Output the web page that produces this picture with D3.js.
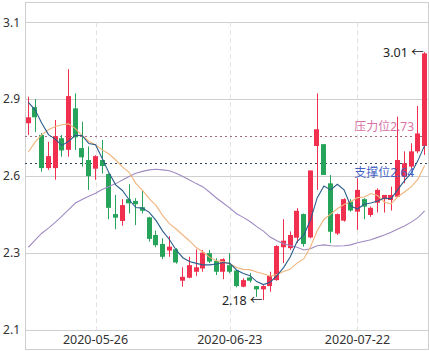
<!DOCTYPE html>
<html>
<head>
<meta charset="utf-8">
<script src="https://cdn.jsdelivr.net/npm/d3@7"></script>
<style>
body { margin: 0; background: #fff; }
svg { display: block; font-family: "Noto Sans", "Noto Sans CJK SC", sans-serif; }
</style>
</head>
<body>
<svg id="chart" width="429" height="351"></svg>
<script>
// trading days shown on the chart
const dates = [
  "2020-05-12","2020-05-13","2020-05-14","2020-05-15","2020-05-18","2020-05-19","2020-05-20","2020-05-21","2020-05-22","2020-05-25",
  "2020-05-26","2020-05-27","2020-05-28","2020-05-29","2020-06-01","2020-06-02","2020-06-03","2020-06-04","2020-06-05","2020-06-08",
  "2020-06-09","2020-06-10","2020-06-11","2020-06-12","2020-06-15","2020-06-16","2020-06-17","2020-06-18","2020-06-19","2020-06-22",
  "2020-06-23","2020-06-24","2020-06-29","2020-06-30","2020-07-01","2020-07-02","2020-07-03","2020-07-06","2020-07-07","2020-07-08",
  "2020-07-09","2020-07-10","2020-07-13","2020-07-14","2020-07-15","2020-07-16","2020-07-17","2020-07-20","2020-07-21","2020-07-22",
  "2020-07-23","2020-07-24","2020-07-27","2020-07-28","2020-07-29","2020-07-30","2020-07-31","2020-08-03","2020-08-04","2020-08-05"
];

const openVals = [
  2.772,2.826,2.733,2.622,2.622,2.722,2.683,2.822,2.689,2.649,
  2.620,2.649,2.602,2.468,2.445,2.518,2.512,2.491,2.457,2.398,
  2.368,2.346,2.350,2.245,2.255,2.275,2.286,2.337,2.311,2.275,
  2.297,2.279,2.225,2.256,2.227,2.216,2.227,2.247,2.357,2.354,
  2.389,2.468,2.390,2.696,2.702,2.571,2.403,2.446,2.510,2.476,
  2.518,2.465,2.506,2.518,2.515,2.526,2.593,2.627,2.678,2.696
];
const closeVals = [
  2.792,2.792,2.622,2.662,2.729,2.681,2.863,2.725,2.658,2.595,
  2.662,2.629,2.489,2.456,2.498,2.504,2.501,2.479,2.385,2.364,
  2.325,2.359,2.306,2.258,2.297,2.290,2.339,2.309,2.275,2.317,
  2.275,2.227,2.247,2.245,2.216,2.227,2.261,2.361,2.379,2.398,
  2.479,2.368,2.614,2.752,2.599,2.409,2.468,2.518,2.480,2.549,
  2.493,2.489,2.549,2.532,2.532,2.649,2.638,2.678,2.738,3.006
];
const highVals = [
  2.861,2.853,2.739,2.710,2.783,2.733,2.953,2.872,2.777,2.694,
  2.665,2.716,2.604,2.532,2.518,2.568,2.521,2.546,2.459,2.413,
  2.387,2.394,2.354,2.290,2.325,2.350,2.348,2.348,2.320,2.320,
  2.337,2.281,2.253,2.270,2.227,2.230,2.275,2.364,2.451,2.410,
  2.488,2.470,2.614,2.872,2.702,2.599,2.470,2.521,2.518,2.588,
  2.521,2.493,2.554,2.532,2.560,2.794,2.678,2.705,2.830,3.010
];
const lowVals = [
  2.733,2.743,2.610,2.616,2.583,2.660,2.660,2.683,2.627,2.549,
  2.583,2.604,2.451,2.417,2.429,2.470,2.431,2.470,2.376,2.357,
  2.317,2.325,2.302,2.225,2.253,2.261,2.275,2.304,2.264,2.250,
  2.270,2.223,2.223,2.239,2.191,2.180,2.208,2.245,2.304,2.348,
  2.372,2.359,2.387,2.549,2.599,2.371,2.398,2.443,2.476,2.415,
  2.451,2.459,2.473,2.473,2.480,2.526,2.571,2.616,2.672,2.666
];

// moving averages
const ma5 = [
  2.842,2.817,2.772,2.734,2.719,2.698,2.712,2.732,2.731,2.704,
  2.700,2.654,2.606,2.566,2.547,2.516,2.490,2.488,2.474,2.447,
  2.411,2.383,2.348,2.322,2.309,2.303,2.298,2.298,2.301,2.306,
  2.303,2.281,2.269,2.262,2.242,2.232,2.240,2.262,2.289,2.325,
  2.376,2.397,2.448,2.522,2.562,2.549,2.568,2.549,2.495,2.485,
  2.501,2.505,2.512,2.522,2.519,2.550,2.580,2.605,2.647,2.698
];
const ma10 = [
  2.676,2.709,2.734,2.750,2.761,2.767,2.770,2.754,2.731,2.712,
  2.699,2.683,2.669,2.649,2.626,2.608,2.571,2.547,2.520,2.497,
  2.463,2.436,2.418,2.398,2.378,2.356,2.341,2.323,2.312,2.308,
  2.302,2.289,2.283,2.282,2.274,2.268,2.260,2.266,2.276,2.284,
  2.304,2.318,2.358,2.412,2.450,2.468,2.486,2.500,2.509,2.523,
  2.525,2.537,2.530,2.508,2.502,2.526,2.542,2.559,2.585,2.631
];
const ma30 = [
  2.357,2.381,2.404,2.421,2.440,2.461,2.483,2.505,2.517,2.528,
  2.538,2.550,2.560,2.570,2.582,2.594,2.605,2.611,2.616,2.618,
  2.616,2.613,2.605,2.594,2.582,2.570,2.559,2.541,2.522,2.505,
  2.488,2.469,2.457,2.443,2.426,2.411,2.391,2.379,2.369,2.363,
  2.357,2.348,2.352,2.362,2.365,2.362,2.361,2.362,2.365,2.372,
  2.377,2.382,2.390,2.398,2.407,2.418,2.428,2.441,2.456,2.479
];

const yTicks = [2.08, 2.3375, 2.595, 2.8525, 3.11];
const yTickLabels = ["2.1", "2.3", "2.6", "2.9", "3.1"];
const xTickLabels = ["2020-05-26", "2020-06-23", "2020-07-22"];

const pressureLevel = 2.73;
const supportLevel = 2.64;

const upColor = "#f0304e";
const downColor = "#26a45a";

const svg = d3.select("#chart");
const W = 429, H = 351;
const plotLeft = 25, plotRight = 428, plotTop = 22.3, plotBottom = 330;

const x = d3.scaleBand()
    .domain(dates)
    .range([plotLeft, plotRight])
    .paddingInner(0.2)
    .paddingOuter(0.1);
const y = d3.scaleLinear()
    .domain([2.08, 3.11])
    .range([plotBottom, plotTop]);

const bw = x.bandwidth();
const cx = d => x(d) + bw / 2;
const crisp = v => Math.round(v) + 0.5;

// outer frame
svg.append("rect")
    .attr("x", plotLeft + 0.5).attr("y", 2.5)
    .attr("width", plotRight - plotLeft).attr("height", H - 4)
    .attr("fill", "none").attr("stroke", "#cfcfcf");

// horizontal grid
svg.append("g").selectAll("line")
    .data(yTicks)
    .enter().append("line")
    .attr("x1", plotLeft).attr("x2", plotRight)
    .attr("y1", d => crisp(y(d))).attr("y2", d => crisp(y(d)))
    .attr("stroke", "#cfcfcf");

svg.append("g").selectAll("text")
    .data(yTicks)
    .enter().append("text")
    .attr("x", plotLeft - 5)
    .attr("y", d => y(d))
    .attr("dy", "0.35em")
    .attr("text-anchor", "end")
    .attr("font-size", 12)
    .attr("fill", "#333")
    .text((d, i) => yTickLabels[i]);

// vertical dashed grid + date labels
svg.append("g").selectAll("line")
    .data(xTickLabels)
    .enter().append("line")
    .attr("x1", d => crisp(cx(d))).attr("x2", d => crisp(cx(d)))
    .attr("y1", plotTop).attr("y2", plotBottom)
    .attr("stroke", "#e2e2e2")
    .attr("stroke-dasharray", "5,3");

svg.append("g").selectAll("text")
    .data(xTickLabels)
    .enter().append("text")
    .attr("x", d => cx(d))
    .attr("y", plotBottom + 14)
    .attr("text-anchor", "middle")
    .attr("font-size", 12.5)
    .attr("fill", "#333")
    .text(d => d);

// support / pressure levels
svg.append("line")
    .attr("x1", plotLeft).attr("x2", plotRight)
    .attr("y1", crisp(y(pressureLevel))).attr("y2", crisp(y(pressureLevel)))
    .attr("stroke", "#9c6b80").attr("stroke-dasharray", "2,3");
svg.append("line")
    .attr("x1", plotLeft).attr("x2", plotRight)
    .attr("y1", crisp(y(supportLevel))).attr("y2", crisp(y(supportLevel)))
    .attr("stroke", "#34455e").attr("stroke-dasharray", "2,3");

// candles
const candles = svg.append("g").selectAll("g")
    .data(dates.map((d, i) => ({ d, o: openVals[i], c: closeVals[i], h: highVals[i], l: lowVals[i] })))
    .enter().append("g");

candles.append("line")
    .attr("x1", k => crisp(cx(k.d) - 0.5)).attr("x2", k => crisp(cx(k.d) - 0.5))
    .attr("y1", k => y(k.h)).attr("y2", k => y(k.l))
    .attr("stroke", k => k.c >= k.o ? upColor : downColor);

candles.append("rect")
    .attr("x", k => Math.round(cx(k.d) - bw / 2))
    .attr("width", Math.round(bw))
    .attr("y", k => y(Math.max(k.o, k.c)))
    .attr("height", k => Math.max(1, Math.abs(y(k.o) - y(k.c))))
    .attr("fill", k => k.c >= k.o ? upColor : downColor);

// moving average lines, drawn over the candles
const idxLine = d3.line()
    .x((v, i) => cx(dates[i]))
    .y(v => y(v));

[[ma30, "#a08bc2"], [ma10, "#f1b47c"], [ma5, "#2c5e8c"]].forEach(([vals, color]) => {
    svg.append("path")
        .attr("d", idxLine(vals))
        .attr("fill", "none")
        .attr("stroke", color)
        .attr("stroke-width", 1.1);
});

// level labels
svg.append("text")
    .attr("x", plotRight - 14)
    .attr("y", y(pressureLevel) - 9)
    .attr("dy", "0.35em")
    .attr("text-anchor", "end")
    .attr("font-size", 12)
    .attr("fill", "#d873a6")
    .text("压力位" + pressureLevel.toFixed(2));
svg.append("text")
    .attr("x", plotRight - 14)
    .attr("y", y(supportLevel) + 10)
    .attr("dy", "0.35em")
    .attr("text-anchor", "end")
    .attr("font-size", 12)
    .attr("fill", "#4462c4")
    .text("支撑位" + supportLevel.toFixed(2));

// highest / lowest markers
const hi = d3.maxIndex(highVals);
const lo = d3.minIndex(lowVals);
[[hi, highVals[hi]], [lo, lowVals[lo]]].forEach(([i, v]) => {
    svg.append("text")
        .attr("x", cx(dates[i]) - 1)
        .attr("y", y(v))
        .attr("dy", "0.35em")
        .attr("text-anchor", "end")
        .attr("font-size", 12.5)
        .attr("fill", "#222")
        .text(v.toFixed(2) + " \u2190");
});
</script>
</body>
</html>
